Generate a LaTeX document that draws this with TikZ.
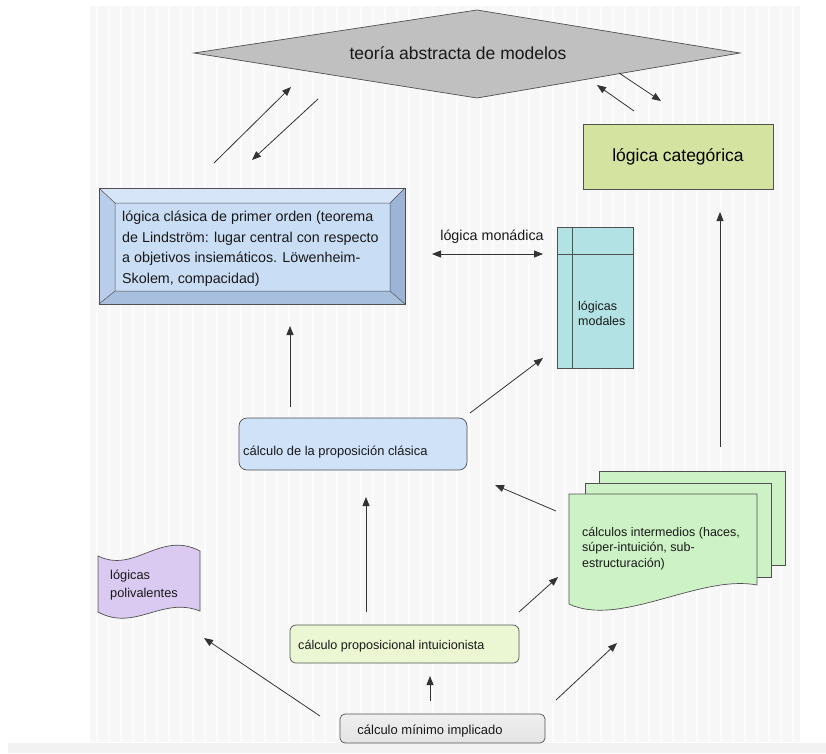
\documentclass[tikz,border=0pt]{standalone}
\usepackage{fontspec}
\setmainfont{Liberation Sans}
\usetikzlibrary{arrows.meta}
\definecolor{bgc}{HTML}{F7F7F7}
\definecolor{edge}{HTML}{505050}
\definecolor{dia}{HTML}{C0C0C0}
\definecolor{cat}{HTML}{D5E3A0}
\definecolor{clin}{HTML}{C9DDF5}
\definecolor{cltop}{HTML}{D6E5F8}
\definecolor{clleft}{HTML}{B7CDEB}
\definecolor{clright}{HTML}{9DB4D6}
\definecolor{clbot}{HTML}{A9BFDE}
\definecolor{moda}{HTML}{B2E2E4}
\definecolor{prop}{HTML}{CFE2F8}
\definecolor{inter}{HTML}{CDF2C6}
\definecolor{poli}{HTML}{DACAF2}
\definecolor{intu}{HTML}{EAF7D2}
\definecolor{mini}{HTML}{E4E4E4}
\begin{document}
\begin{tikzpicture}[x=1pt,y=-1pt,
  conn/.style={draw=black!80, line width=0.8pt, -{Triangle[length=9pt,width=7pt]}},
  dconn/.style={draw=black!80, line width=0.8pt, {Triangle[length=9pt,width=7pt]}-{Triangle[length=9pt,width=7pt]}},
  shp/.style={draw=edge, line width=0.7pt},
  txt/.style={inner sep=0pt, text=black!90},
  ltxt/.style={inner sep=0pt, anchor=north west, align=left, text=black!90}]
\useasboundingbox (0,0) rectangle (826,753);
\fill[white] (0,0) rectangle (826,753);
\fill[bgc] (90,6) rectangle (800,742);
\foreach \x in {97,109,...,796} \draw[white!60!bgc, line width=2pt] (\x,6) -- (\x,742);
\fill[black!5] (8,743) rectangle (826,753);

% diamond
\draw[shp, fill=dia] (194,53) -- (477,10) -- (740,53) -- (477,98) -- cycle;
\node[txt, font=\fontsize{17.5}{20}\selectfont] (tam) at (458,53) {teoría abstracta de modelos};

% lógica categórica
\node[shp, fill=cat, minimum width=190pt, minimum height=65pt, inner sep=0pt,
      font=\fontsize{17.5}{20}\selectfont] (cat) at (678,156.5) {lógica categórica};

% lógica clásica de primer orden (bevel)
\fill[cltop] (99,188) -- (405,188) -- (390,203) -- (115,203) -- cycle;
\fill[clleft] (99,188) -- (115,203) -- (115,291) -- (99,304) -- cycle;
\fill[clright] (405,188) -- (405,304) -- (390,291) -- (390,203) -- cycle;
\fill[clbot] (99,304) -- (405,304) -- (390,291) -- (115,291) -- cycle;
\fill[clin] (115,203) rectangle (390,291);
\draw[shp] (99,188) rectangle (405,304);
\draw[edge, line width=0.5pt] (115,203) rectangle (390,291)
  (99,188) -- (115,203) (405,188) -- (390,203) (99,304) -- (115,291) (405,304) -- (390,291);
\node[ltxt, font=\fontsize{14.3}{20.5}\selectfont] (clas) at (122,211)
  {lógica clásica de primer orden (teorema\\de Lindström: lugar central con respecto\\a objetivos insiemáticos. Löwenheim-\\Skolem, compacidad)};

% lógica monádica
\node[txt, font=\fontsize{14.3}{16}\selectfont] (mon) at (492,237) {lógica monádica};
\coordinate (monL) at (432,254);
\coordinate (monR) at (543,254);
\draw[dconn] (monL) -- (monR);

% lógicas modales
\draw[shp, fill=moda] (557,227) rectangle (633,368);
\draw[edge, line width=0.7pt] (572,227) -- (572,368) (557,254) -- (633,254);
\node[ltxt, font=\fontsize{12.5}{15.5}\selectfont] (mod) at (578,301) {lógicas\\modales};

% cálculo de la proposición clásica
\node[shp, fill=prop, rounded corners=8pt, minimum width=228pt, minimum height=52pt] (pc) at (353,444) {};
\node[txt, anchor=west, font=\fontsize{12.9}{15}\selectfont] (pct) at (243,452) {cálculo de la proposición clásica};

% cálculos intermedios (stacked documents)
\draw[shp, fill=inter] (599,471) -- (785,471) -- (785,565) -- (599,565) -- cycle;
\draw[shp, fill=inter] (585,483) -- (771,483) -- (771,577) -- (585,577) -- cycle;
\draw[shp, fill=inter] (569,494) -- (757,494) -- (757,585) .. controls (700,574) and (620,628) .. (569,604) -- cycle;
\node[ltxt, font=\fontsize{12.5}{15.5}\selectfont] (inter) at (582,527) {cálculos intermedios (haces,\\súper-intuición, sub-\\estructuración)};

% lógicas polivalentes
\draw[shp, fill=poli] (98,556) .. controls (135,574) and (160,530) .. (200,551)
  -- (200,611) .. controls (162,596) and (135,632) .. (98,612) -- cycle;
\node[ltxt, font=\fontsize{12.8}{18}\selectfont] (poli) at (110,570) {lógicas\\polivalentes};

% cálculo proposicional intuicionista
\node[shp, fill=intu, rounded corners=6pt, minimum width=229pt, minimum height=38pt] (ip) at (404.5,644) {};
\node[txt, anchor=west, font=\fontsize{12.6}{15}\selectfont] (ipt) at (298,646) {cálculo proposicional intuicionista};

% cálculo mínimo implicado
\node[shp, top color=mini!60, bottom color=mini, rounded corners=5pt, minimum width=205pt, minimum height=29pt] (min) at (442.5,728.5) {};
\node[txt, font=\fontsize{13}{15}\selectfont] (mint) at (430,731) {cálculo mínimo implicado};

% connector end points
\coordinate (a1s) at (214,163); \coordinate (a1e) at (291,87);
\coordinate (a2s) at (318,99);  \coordinate (a2e) at (252,160);
\coordinate (a3s) at (619,73);  \coordinate (a3e) at (661,101);
\coordinate (a4s) at (634,111); \coordinate (a4e) at (597,85);
\coordinate (a5s) at (720,447); \coordinate (a5e) at (720,212);
\coordinate (a6s) at (290,407); \coordinate (a6e) at (290,326);
\coordinate (a7s) at (470,413); \coordinate (a7e) at (543,358);
\coordinate (a8s) at (366,612); \coordinate (a8e) at (366,497);
\coordinate (a9s) at (556,511); \coordinate (a9e) at (495,485);
\coordinate (b1s) at (519,612); \coordinate (b1e) at (558,577);
\coordinate (b2s) at (556,700); \coordinate (b2e) at (617,643);
\coordinate (b3s) at (320,716); \coordinate (b3e) at (204,638);
\coordinate (b4s) at (430,701); \coordinate (b4e) at (430,676);

\draw[conn] (a1s) -- (a1e);
\draw[conn] (a2s) -- (a2e);
\draw[conn] (a3s) -- (a3e);
\draw[conn] (a4s) -- (a4e);
\draw[conn] (a5s) -- (a5e);
\draw[conn] (a6s) -- (a6e);
\draw[conn] (a7s) -- (a7e);
\draw[conn] (a8s) -- (a8e);
\draw[conn] (a9s) -- (a9e);
\draw[conn] (b1s) -- (b1e);
\draw[conn] (b2s) -- (b2e);
\draw[conn] (b3s) -- (b3e);
\draw[conn] (b4s) -- (b4e);
\end{tikzpicture}
\end{document}
